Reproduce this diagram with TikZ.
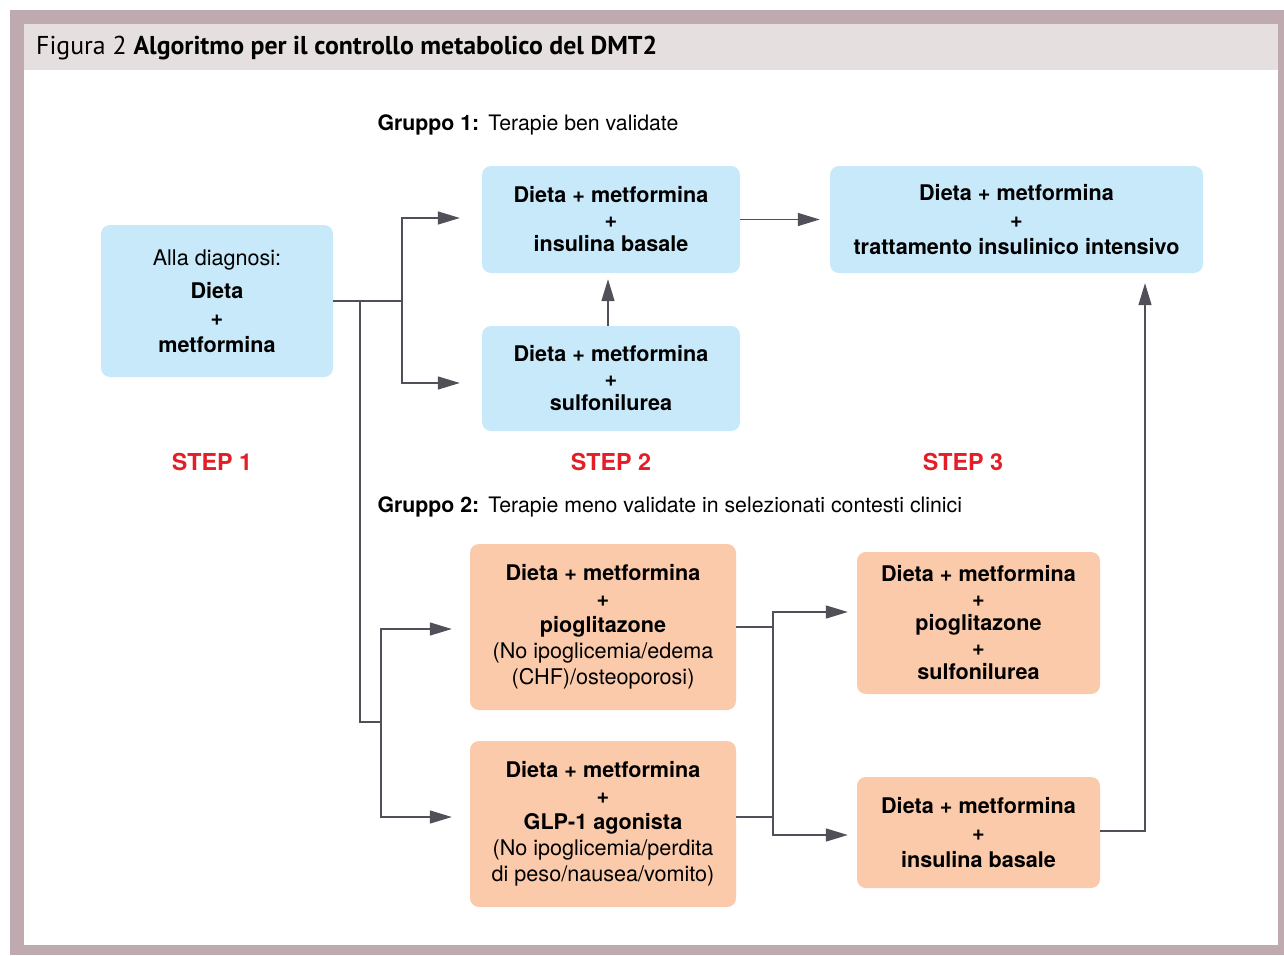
\documentclass[tikz,border=0pt]{standalone}
\usepackage{fontspec}
\setmainfont{TeX Gyre Heros}
\newfontfamily\headfont{PT Sans}
\usetikzlibrary{arrows.meta}

\definecolor{boxblue}{RGB}{199,233,249}
\definecolor{boxorange}{RGB}{251,202,170}
\definecolor{framemauve}{RGB}{191,170,175}
\definecolor{headband}{RGB}{230,223,224}
\definecolor{linegrey}{RGB}{80,80,88}
\definecolor{stepred}{RGB}{228,30,38}

\tikzset{
  bluebox/.style={fill=boxblue, rounded corners=9pt, align=center, inner sep=0pt,
    font=\bfseries\fontsize{21.6}{24.5}\selectfont},
  orangebox/.style={fill=boxorange, rounded corners=9pt, align=center, inner sep=0pt,
    font=\bfseries\fontsize{21.6}{26}\selectfont},
  link/.style={draw=linegrey, line width=1.4pt},
  arr/.style={link, -{Triangle[length=22pt,width=13pt]}},
  steplabel/.style={text=stepred, font=\bfseries\fontsize{23.3}{28}\selectfont},
  grouplabel/.style={anchor=base west, font=\fontsize{21.3}{25}\selectfont},
}

\begin{document}
\begin{tikzpicture}[x=1pt, y=-1pt]
    \useasboundingbox (0,0) rectangle (1284,955);
    % frame and header band
    \fill[framemauve] (10,10) rectangle (1284,955);
    \fill[white] (24,24) rectangle (1278,945);
    \fill[headband] (24,24) rectangle (1278,70);
    \node[anchor=base west, inner sep=0pt, font=\headfont\fontsize{25.8}{30}\selectfont] (title) at (36,55)
        {Figura 2 \textbf{Algoritmo per il controllo metabolico del DMT2}};

    % group 1
    \node[grouplabel] (g1) at (374,131) {\textbf{Gruppo 1:}\hspace{9pt}Terapie ben validate};
    \node[bluebox, minimum width=232pt, minimum height=152pt, font=\bfseries\fontsize{21.6}{27}\selectfont] (diag) at (217,301)
        {\mdseries Alla diagnosi:\\[6pt] Dieta\\+\\metformina};
    \node[bluebox, minimum width=258pt, minimum height=107pt] (b1) at (611,219.5)
        {Dieta + metformina\\+\\insulina basale};
    \node[bluebox, minimum width=258pt, minimum height=105pt] (b2) at (611,378.5)
        {Dieta + metformina\\+\\sulfonilurea};
    \node[bluebox, minimum width=373pt, minimum height=107pt, font=\bfseries\fontsize{21.6}{27}\selectfont] (b3) at (1016.5,219.5)
        {Dieta + metformina\\+\\trattamento insulinico intensivo};

    % steps
    \node[steplabel] (s1) at (212,462) {STEP 1};
    \node[steplabel] (s2) at (611,462) {STEP 2};
    \node[steplabel] (s3) at (963,462) {STEP 3};

    % group 2
    \node[grouplabel] (g2) at (374,512) {\textbf{Gruppo 2:}\hspace{9pt}Terapie meno validate in selezionati contesti clinici};
    \node[orangebox, minimum width=266pt, minimum height=166pt] (o1) at (603,627)
        {Dieta + metformina\\+\\pioglitazone\\\mdseries(No ipoglicemia/edema\\\mdseries(CHF)/osteoporosi)};
    \node[orangebox, minimum width=266pt, minimum height=166pt] (o2) at (603,824)
        {Dieta + metformina\\+\\GLP-1 agonista\\\mdseries(No ipoglicemia/perdita\\\mdseries di peso/nausea/vomito)};
    \node[orangebox, minimum width=243pt, minimum height=142pt, font=\bfseries\fontsize{21.6}{24.5}\selectfont] (o3) at (978.5,623)
        {Dieta + metformina\\+\\pioglitazone\\+\\sulfonilurea};
    \node[orangebox, minimum width=243pt, minimum height=111pt, font=\bfseries\fontsize{21.6}{27}\selectfont] (o4) at (978.5,832.5)
        {Dieta + metformina\\+\\insulina basale};

    % connectors
    \coordinate (j1) at (402,301);
    \coordinate (j2) at (360,301);
    \coordinate (j3) at (381,722);
    \coordinate (j4) at (773,627);
    \coordinate (j5) at (773,817);
    \draw[link] (diag.east) -- (j1);
    \draw[arr, shorten >=22pt] (j1) |- ([yshift=1.5pt]b1.west);
    \draw[arr, shorten >=22pt] (j1) |- ([yshift=-4.5pt]b2.west);
    \draw[arr, shorten >=6pt] ([xshift=-3pt]b2.north) -- ([xshift=-3pt]b1.south);
    \draw[arr, shorten >=10pt] (b1.east) -- (b3.west);
    \draw[link] (j2) |- (j3);
    \draw[arr, shorten >=18pt] (j3) |- ([yshift=-2pt]o1.west);
    \draw[arr, shorten >=18pt] (j3) |- ([yshift=7pt]o2.west);
    \draw[link] (o1.east) -- (j4);
    \draw[link] ([yshift=7pt]o2.east) -- (j5);
    \draw[link] (j4) -- (j5);
    \draw[arr, shorten >=9pt] (j4) |- ([yshift=11pt]o3.west);
    \draw[arr, shorten >=9pt] (j5) |- ([yshift=-2.5pt]o4.west);
    \draw[arr, shorten >=10pt] ([yshift=1.5pt]o4.east) -| ([xshift=128.5pt]b3.south);
\end{tikzpicture}
\end{document}
